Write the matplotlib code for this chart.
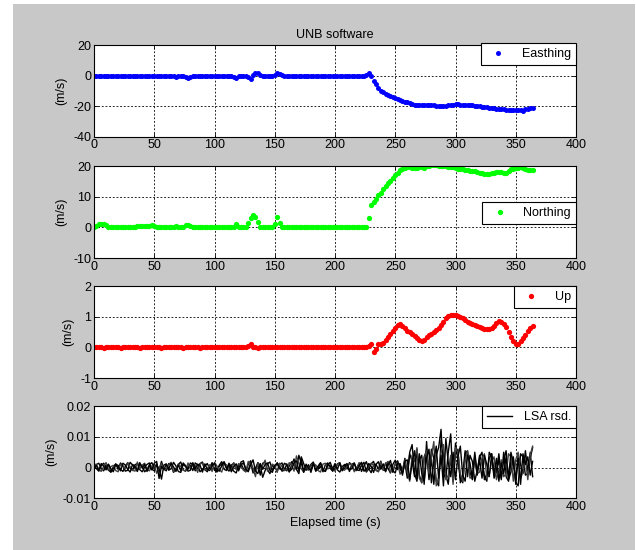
import numpy as np
import matplotlib
matplotlib.use("Agg")
import matplotlib.pyplot as plt
from matplotlib.patches import Rectangle

plt.rcParams['font.family'] = ['Liberation Sans Narrow', 'Liberation Sans', 'DejaVu Sans']
plt.rcParams['font.size'] = 9
plt.rcParams['axes.unicode_minus'] = False

# epochs every 2 s
t = np.arange(0, 366, 2)

# ---------------- velocities (m/s) ----------------
easting = [
    0, 0, -0.5, -0.5, -0.5, 0, 0, 0, 0, 0,
    0, 0, 0, 0, 0, 0, 0, 0, 0, 0,
    0, 0, 0, 0, 0, 0, -0.5, -0.5, -0.3, 0,
    0, 0, 0, -0.5, -1, -0.5, 0, 0, -1, -1.5,
    -0.8, 0, 0, 0, 0, 0, 0, 0, 0, 0,
    0, 0, 0, 0, 0, 0, 0, 0, -1, -1.5,
    0, -0.5, -0.5, 0, -1, -2.5, 0.5, 1.5, 1.5, 0.5,
    0, 0, 0, 0, 0, 0.5, 1.5, 1, 0.3, 0,
    0, 0, 0, 0, 0, 0, 0, 0, 0, 0,
    0, 0, 0, 0, 0, 0, 0, 0, 0, 0,
    0, 0, 0, 0, 0, 0, 0, 0, 0, 0,
    0, 0, 0, 0.5, 2, 0, -3.5, -5.5, -8, -10,
    -11, -12, -12.5, -13.5, -14, -14.5, -15.5, -16, -16.5, -17,
    -17.5, -18, -18.5, -19, -19.5, -19.5, -19.5, -19.5, -19.3, -19.4,
    -19.5, -19.5, -19.6, -19.6, -19.7, -19.6, -19.6, -19.5, -19.3, -19,
    -18.8, -18.8, -19, -19.2, -19.3, -19.4, -19.4, -19.5, -19.6, -19.8,
    -20, -20.3, -20.5, -20.8, -21, -21.2, -21.4, -21.6, -21.8, -22,
    -22, -22.2, -22.3, -22.3, -22.5, -22.3, -22.3, -22.8, -23, -22,
    -21.7, -21.3, -21,
]

northing = [
    0.3, 0.5, 1, 1.3, 1.3, 0.8, 0.2, 0, 0, 0,
    0, 0, 0, 0, 0, 0, 0, 0.3, 0.5, 0.5,
    0.5, 0.6, 0.5, 0.5, 0.8, 0.6, 0.3, 0.2, 0.2, 0.2,
    0.2, 0.2, 0.2, 0.3, 0.4, 0.3, 0.2, 0.3, 0.7, 0.8,
    0.5, 0.2, 0, 0, 0, 0, 0, 0, 0, 0,
    0, 0, 0, 0, 0, 0, 0, 0, 0.3, 1,
    0.3, 0, 0, 0.3, 1.5, 3, 4, 3.3, 1.8, 0.3,
    0, 0, 0, 0, 0, 1.2, 3.3, 1.5, 0.3, 0,
    0, 0, 0, 0, 0, 0, 0, 0, 0, 0,
    0, 0, 0, 0, 0, 0, 0, 0, 0, 0,
    0, 0, 0, 0, 0, 0, 0, 0, 0, 0,
    0, 0, 0, 0.3, 3, 7.5, 8.5, 9.3, 10.5, 11.3,
    12.5, 13.5, 14.5, 15.3, 16.3, 17.2, 18, 18.7, 19.2, 19.6,
    19.8, 19.7, 19.5, 19.4, 19.5, 19.7, 19.7, 19.6, 20, 20.2,
    20.4, 20.4, 20.4, 20.3, 20.2, 20.2, 20, 19.9, 19.8, 19.7,
    19.5, 19.3, 19.2, 19, 18.8, 18.7, 18.6, 18.5, 18.4, 18.3,
    18, 17.8, 17.6, 17.5, 17.5, 17.7, 18, 18.2, 18.3, 18.2,
    17.8, 18, 18.5, 19, 19.2, 19.5, 19.6, 19.8, 19.5, 19,
    18.8, 18.7, 18.8,
]

up = [
    0, 0, 0.02, 0, -0.02, 0, 0, 0.02, 0, 0,
    0, -0.02, 0, 0, 0.02, 0, 0, 0, 0, -0.02,
    0, 0, 0.02, 0, 0, 0, 0, 0, -0.02, 0,
    0, 0.02, 0, 0, 0, 0, 0, -0.02, 0, 0,
    0.02, 0, 0, 0, -0.02, 0, 0, 0, 0, 0,
    0, 0, 0, 0.02, 0, 0, 0, 0, 0.03, 0,
    0, 0, 0, 0.03, 0.05, 0.1, 0.03, 0, -0.02, 0,
    0, 0, 0.02, 0, 0, 0, 0, 0.02, 0, 0,
    0, 0, 0, 0, 0, 0, 0, 0, 0, 0,
    0, 0, 0, 0, 0, 0, 0, 0, 0, 0,
    0, 0, 0, 0, 0, 0, 0, 0, 0, 0,
    0, 0, 0, 0, 0.05, 0.1, -0.15, -0.05, 0.1, 0.12,
    0.15, 0.25, 0.35, 0.45, 0.55, 0.65, 0.75, 0.78, 0.72, 0.65,
    0.55, 0.5, 0.45, 0.38, 0.32, 0.26, 0.2, 0.25, 0.33, 0.4,
    0.45, 0.5, 0.58, 0.65, 0.75, 0.85, 0.95, 1.03, 1.08, 1.05,
    1.05, 1.03, 1.0, 0.95, 0.9, 0.85, 0.8, 0.77, 0.75, 0.72,
    0.68, 0.65, 0.62, 0.6, 0.6, 0.65, 0.72, 0.8, 0.87, 0.85,
    0.78, 0.68, 0.52, 0.35, 0.2, 0.1, 0.1, 0.2, 0.3, 0.42,
    0.55, 0.63, 0.72,
]

# ---------------- LSA residuals (units of 1e-4 m/s) ----------------
rsd1 = [
    8, -4, -12, 6, 14, 3, -9, -15, 2, 11,
    7, -6, -13, 4, 16, -2, -10, 9, 13, -7,
    -14, 1, 10, 15, -5, -11, 6, -3, -38, 8,
    12, -9, -4, 17, 5, -13, -16, 10, 3, -6,
    15, 9, -11, -2, 13, 18, -7, -14, 4, 11,
    -3, -15, 8, 19, -6, -10, 14, 2, -12, -18,
    7, 13, -4, -14, 10, 22, -8, -3, 16, 5,
    -32, -10, 12, 18, -9, 3, -13, 10, 15, -6,
    -11, 4, 19, 8, -7, 40, 14, -12, -3, 9,
    -16, 11, 6, -2, 14, -9, -12, 8, 17, -4,
    13, -8, -15, 3, 10, -5, 16, 7, -10, -1,
    12, -13, 5, 19, -4, -17, 8, 11, -6, 21,
    -9, 15, -3, -18, 10, 24, -7, 13, -12, 30,
    -20, 45, 20, -30, 60, -25, -50, 35, 55, -40,
    30, -55, 40, 65, 125, -20, -35, 50, 110, -45,
    45, 60, -50, -25, 55, -30, 40, 20, -45, -10,
    35, 50, -40, -20, 30, 45, -35, -15, 25, -40,
    50, -30, -45, 20, 35, -55, 40, 10, -20, 55,
    -10, 30, 65,
]
rsd2 = [
    -8, 10, 14, -3, -11, 6, 9, -15, -2, 12,
    -6, 15, 4, -12, -9, 17, 8, -3, -13, 11,
    5, -14, -7, 9, 16, -2, 12, -10, 20, -5,
    -11, 13, 7, -16, -4, 10, 18, -8, -12, 3,
    6, -10, 15, 9, -14, -7, 4, 13, -3, 16,
    -9, -13, 5, 11, 19, -2, -12, 8, 14, -6,
    -4, 18, 22, -10, -9, 15, -18, -6, 11, -25,
    14, 17, -8, -20, 9, -3, 16, 5, -12, -9,
    12, -15, 8, 28, -6, -20, 35, 13, -9, -5,
    10, 18, -12, -6, 4, -14, 9, 15, -3, -11,
    -4, 12, 16, -9, -3, 8, -13, 11, 14, -7,
    -10, 6, 17, -15, -5, 12, 20, -8, -14, 9,
    -6, -11, 18, 7, -16, 13, 22, -4, -19, 15,
    -35, 50, 75, -20, -45, 25, 40, -55, 85, -30,
    60, 30, -45, -60, 90, 45, -25, -55, 35, -40,
    80, 25, -35, -50, 45, 55, -15, -40, 30, -25,
    40, 15, -30, -45, 50, 35, -20, -10, 45, -35,
    25, 55, -40, -15, 30, -50, -60, 45, 35, -25,
    -20, 50, -30,
]
rsd3 = [
    12, 9, -5, -13, 4, 16, -8, 3, 7, -10,
    -14, 11, 6, -5, 15, 2, -9, -12, 18, -3,
    8, 14, -6, -11, 5, 10, -19, -2, 13, -8,
    -4, 9, 17, -14, -6, 12, 3, -9, -11, 15,
    -5, 10, 7, -16, 12, 14, -8, -4, 9, -13,
    17, 5, -7, -15, 12, 9, -3, -11, 16, -6,
    13, 4, -9, -14, 20, 10, -2, -30, 15, -7,
    8, 24, -12, -5, 11, 6, -16, 14, 3, -10,
    -7, 16, 9, -12, 38, 12, -4, -15, 7, -9,
    5, 13, 8, -10, -15, 11, 14, -5, 2, -8,
    -12, 10, 15, -6, -9, 4, 12, 9, -14, -3,
    16, 11, -7, -12, 5, 14, 8, -10, -13, 18,
    -8, 12, 20, -15, -6, 10, 16, -22, -9, 25,
    -15, -45, 40, 20, 65, -35, -50, 30, 55, -20,
    35, 85, -60, -30, 50, 75, -40, -25, 40, -55,
    65, 50, -20, -45, 25, 55, -35, -30, 40, -20,
    -15, 30, 45, -35, -25, 20, 35, -40, -10, 25,
    -30, -20, 45, 35, -45, 25, 50, -35, -15, 30,
    -40, 40, 70,
]
rsd4 = [
    -3, 7, -10, 13, 5, -8, 11, -4, -14, 9,
    3, -11, 14, 8, -6, -15, 10, 5, -9, 16,
    -2, 11, -13, 6, -8, 14, 20, -36, 4, -7,
    10, -5, 14, 2, -13, 8, -10, 15, 6, -12,
    -9, 16, -4, 11, 7, -15, 12, -6, -10, 5,
    14, -8, -12, 6, 17, -4, 9, -14, 3, 12,
    -11, 8, 16, -5, -14, 9, 25, -12, -20, 13,
    -6, 10, 15, -9, -16, 7, 12, -4, -8, 14,
    9, -13, -6, 15, 22, -10, 30, -16, 11, -3,
    -8, 14, -11, 5, 16, -7, -13, 10, 6, -12,
    9, -5, 14, -11, 7, 13, -8, -4, 15, -10,
    5, 17, -12, -8, 13, 4, -16, 10, 19, -6,
    12, -14, 8, 23, -10, -18, 14, 9, -25, 20,
    25, -40, 15, 55, -35, 45, -20, -45, 30, 60,
    -50, 20, 70, -35, 40, -60, 95, 15, -30, 50,
    -40, 35, 70, -25, -45, 40, 15, -35, 50, -20,
    25, -35, 40, 10, -30, 45, -25, 30, -45, 15,
    -20, 35, -35, 50, 15, -40, 30, -55, 45, 10,
    35, -25, 20,
]

xticks = [0, 50, 100, 150, 200, 250, 300, 350, 400]
yticks1 = [-40, -20, 0, 20]
yticks2 = [-10, 0, 10, 20]
yticks3 = [-1, 0, 1, 2]
yticks4 = [-0.01, 0, 0.01, 0.02]

fig = plt.figure(figsize=(6.36, 5.5), dpi=100, facecolor='white')
fig.patches.append(Rectangle((13 / 636, 0), 622 / 636, 546 / 550,
                             transform=fig.transFigure, facecolor='#c8c8c8',
                             edgecolor='none', zorder=-10))

left, width, h = 94 / 636, 482 / 636, 0.1665
bottoms = [0.7515, 0.5309, 0.3127, 0.0945]
axes = [fig.add_axes([left, b, width, h]) for b in bottoms]


def style(ax, yt, ylim):
    ax.set_xlim(0, 400)
    ax.set_ylim(*ylim)
    ax.set_xticks(xticks)
    ax.set_yticks(yt)
    ax.set_facecolor('white')
    ax.grid(True, color='k', linestyle=(0, (2.2, 2.2)), linewidth=0.6)
    ax.set_axisbelow(True)
    ax.tick_params(direction='in', length=3, width=0.6, colors='k',
                   labelsize=9, pad=2, top=True, right=True)
    for s in ax.spines.values():
        s.set_linewidth(0.8)
        s.set_color('k')
    ax.set_ylabel('(m/s)', fontsize=9, labelpad=4)


leg_kw = dict(fontsize=9, fancybox=False, framealpha=1, edgecolor='k',
              borderaxespad=0, borderpad=0.4, handlelength=2,
              handletextpad=0.9, markerscale=1.0)

ax = axes[0]
ax.plot(t, easting, 'o', color='#0000ff', markersize=3.6, markeredgewidth=0,
        label='Easthing')
style(ax, yticks1, (-40, 20))
ax.set_title('UNB software', fontsize=9, pad=5)
lg = ax.legend(loc='upper right', bbox_to_anchor=(1, 1.02), **leg_kw)
lg.get_frame().set_linewidth(0.8)

ax = axes[1]
ax.plot(t, northing, 'o', color='#00ff00', markersize=3.8, markeredgewidth=0,
        label='Northing')
style(ax, yticks2, (-10, 20))
lg = ax.legend(loc='center right', bbox_to_anchor=(1, 0.49), **leg_kw)
lg.get_frame().set_linewidth(0.8)

ax = axes[2]
ax.plot(t, up, 'o', color='#ff0000', markersize=3.8, markeredgewidth=0,
        label='Up')
style(ax, yticks3, (-1, 2))
lg = ax.legend(loc='upper right', **leg_kw)
lg.get_frame().set_linewidth(0.8)

ax = axes[3]
rsd_colors = ['k', 'k', '#404040', 'k']
for k, r in enumerate([rsd1, rsd2, rsd3, rsd4]):
    ax.plot(t, np.array(r) * 1e-4, color=rsd_colors[k], linewidth=1.0,
            label='LSA rsd.' if k == 0 else None)
style(ax, yticks4, (-0.01, 0.02))
ax.set_yticklabels(['-0.01', '0', '0.01', '0.02'])
ax.set_xlabel('Elapsed time (s)', fontsize=9, labelpad=3)
lg = ax.legend(loc='upper right', **leg_kw)
lg.get_frame().set_linewidth(0.8)

fig.savefig('out.png', dpi=100, facecolor=fig.get_facecolor())
